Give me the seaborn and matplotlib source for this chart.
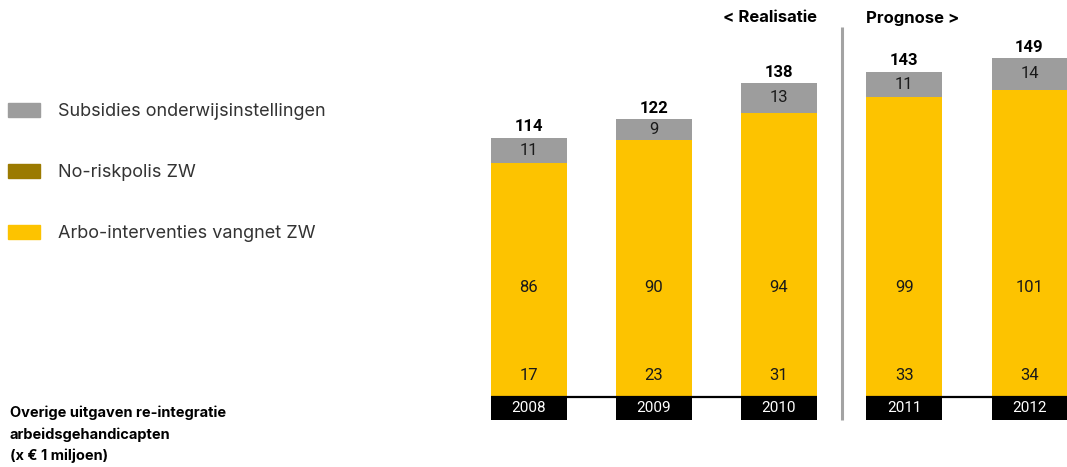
import matplotlib
matplotlib.use("Agg")
import matplotlib.pyplot as plt
import matplotlib.patches as mpatches
import seaborn as sns
import pandas as pd
import numpy as np

# ---- data ----
years = ["2008", "2009", "2010", "2011", "2012"]
arbo_bottom = [17, 23, 31, 33, 34]        # lower yellow segment
arbo_middle = [86, 90, 94, 99, 101]       # upper yellow segment
subsidies = [11, 9, 13, 11, 14]           # grey segment
totals = [114, 122, 138, 143, 149]
legend_labels = ["Subsidies onderwijsinstellingen", "No-riskpolis ZW",
                 "Arbo-interventies vangnet ZW"]
title_lines = ["Overige uitgaven re-integratie", "arbeidsgehandicapten",
               "(x € 1 miljoen)"]
header_left = "< Realisatie"
header_right = "Prognose >"

GREY = "#9d9d9d"
YELLOW = "#fdc300"
OLIVE = "#9b7a00"
TXT = "#1a1a1a"

sns.set_theme(style="white")
plt.rcParams["font.family"] = ["Inter", "DejaVu Sans"]
NUMF = ["Roboto", "DejaVu Sans"]

W, H = 1067, 467
fig = plt.figure(figsize=(W / 100, H / 100), dpi=100)

# axes geometry (pixels): bar centres at 528.5 + 125.25*i, baseline at y=397
pitch = 125.25
c0 = 528.5
ax_left_px = 453
xlo = -(c0 - ax_left_px) / pitch
xhi = 4 + (W - (c0 + 4 * pitch)) / pitch
pxu = 2.275
ylo = -(H - 397) / pxu
yhi = 397 / pxu
ax = fig.add_axes([ax_left_px / W, 0, (W - ax_left_px) / W, 1])

df = pd.DataFrame({"year": years,
                   "low": arbo_bottom,
                   "mid": arbo_middle,
                   "sub": subsidies,
                   "total": totals})
df["yellow_top"] = df["low"] + df["mid"]
df["grey_top"] = df["yellow_top"] + df["sub"]

bw = 76 / pitch
sns.barplot(data=df, x="year", y="grey_top", color=GREY, width=bw,
            saturation=1, ax=ax, linewidth=0)
sns.barplot(data=df, x="year", y="yellow_top", color=YELLOW, width=bw,
            saturation=1, ax=ax, linewidth=0)
sns.barplot(data=df, x="year", y="low", color=YELLOW, width=bw,
            saturation=1, ax=ax, linewidth=0)

xpos = np.arange(len(years))
box_h = 23 / pxu
ax.bar(xpos, [-box_h] * len(years), width=bw, color="black", linewidth=0)

for i in xpos:
    ax.text(i, -box_h / 2, years[i], color="white", ha="center", va="center",
            fontsize=11, family=NUMF)
    ax.text(i, 9.6, str(arbo_bottom[i]), color=TXT, ha="center", va="center",
            fontsize=12, family=NUMF)
    ax.text(i, 48.3, str(arbo_middle[i]), color=TXT, ha="center", va="center",
            fontsize=12, family=NUMF)
    ax.text(i, df["yellow_top"][i] + subsidies[i] / 2, str(subsidies[i]),
            color=TXT, ha="center", va="center", fontsize=12, family=NUMF)
    ax.text(i, totals[i] + 1.5, str(totals[i]), color="black", ha="center",
            va="bottom", fontsize=12, fontweight="bold", family=NUMF)

# baselines
ax.plot([-bw / 2, 2 + bw / 2], [0, 0], color="black", lw=1.6,
        solid_capstyle="butt")
ax.plot([3 - bw / 2, 4 + bw / 2], [0, 0], color="black", lw=1.6,
        solid_capstyle="butt")
# separator
ax.plot([2.5, 2.5], [-box_h, (397 - 27) / pxu], color="#a3a3a3", lw=2.2,
        solid_capstyle="butt")

ax.text(2 + bw / 2, (397 - 18) / pxu, header_left, ha="right", va="center",
        fontsize=12, fontweight="bold", color="black")
ax.text(3 - bw / 2, (397 - 18) / pxu, header_right, ha="left", va="center",
        fontsize=12, fontweight="bold", color="black")

ax.set_xlim(xlo, xhi)
ax.set_ylim(ylo, yhi)
ax.axis("off")

handles = [mpatches.Patch(color=GREY), mpatches.Patch(color=OLIVE),
           mpatches.Patch(color=YELLOW)]
fs_leg = 13
em = fs_leg * 100 / 72
fig.legend(handles, legend_labels, loc="upper left",
           bbox_to_anchor=(8 / W, 1 - 103 / H), bbox_transform=fig.transFigure,
           frameon=False, fontsize=fs_leg, handlelength=32 / em,
           handleheight=14 / em, handletextpad=18 / em, labelspacing=2.44,
           borderpad=0, borderaxespad=0, labelcolor="#333333")

for k, line in enumerate(title_lines):
    fig.text(10 / W, 1 - (413 + 21.5 * k) / H, line, ha="left", va="center",
             fontsize=10.5, fontweight="bold", color="black")

fig.savefig("out.png", dpi=100)
